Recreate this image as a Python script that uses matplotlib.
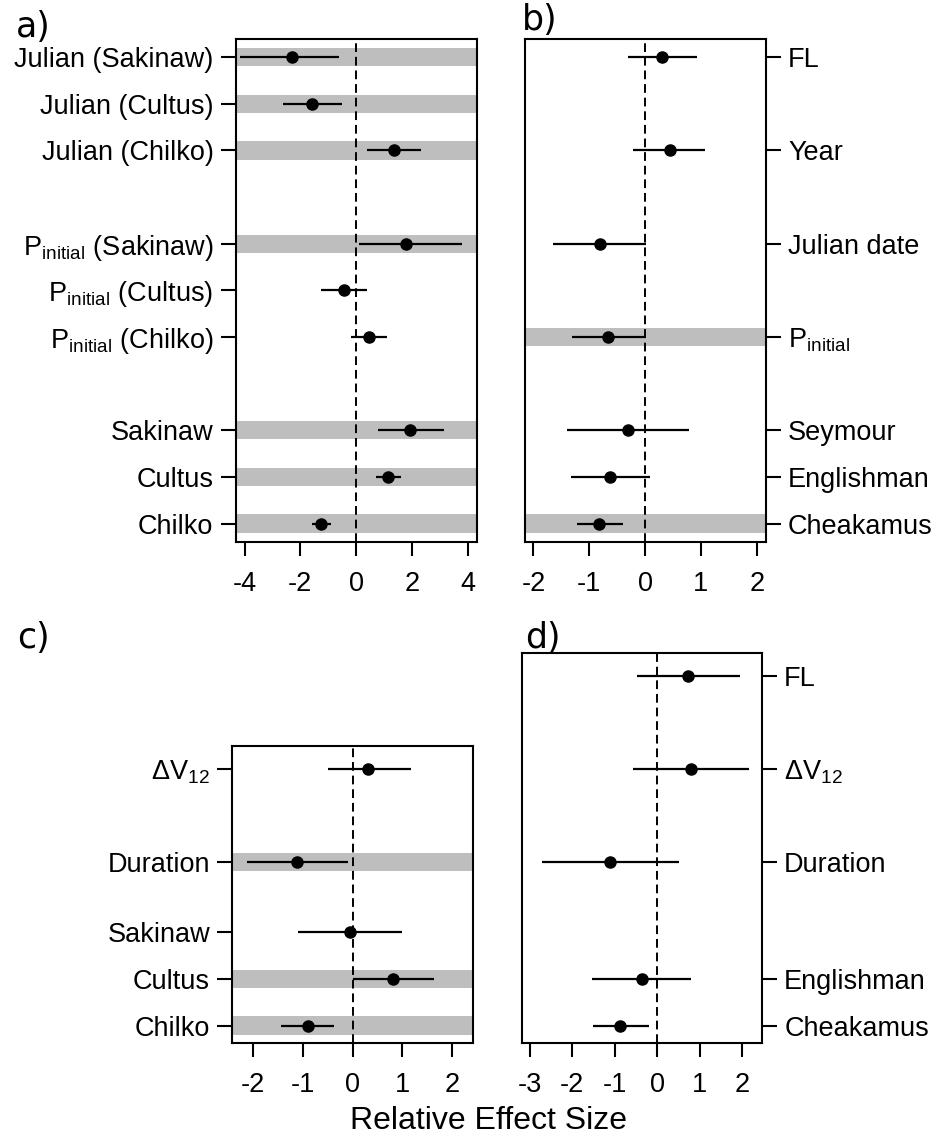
import matplotlib
matplotlib.use("Agg")
import matplotlib.pyplot as plt

plt.rcParams['font.family'] = ['Liberation Sans', 'DejaVu Sans']
plt.rcParams['mathtext.fontset'] = 'custom'
plt.rcParams['mathtext.rm'] = 'Liberation Sans'
plt.rcParams['mathtext.it'] = 'Liberation Sans:italic'
plt.rcParams['mathtext.bf'] = 'Liberation Sans:bold'
plt.rcParams['mathtext.default'] = 'regular'

# ---------------- data ----------------
# panel a
a_labels = ['Julian (Sakinaw)', 'Julian (Cultus)', 'Julian (Chilko)',
            r'P$_{initial}$ (Sakinaw)', r'P$_{initial}$ (Cultus)', r'P$_{initial}$ (Chilko)',
            'Sakinaw', 'Cultus', 'Chilko']
a_slots = [0, 1, 2, 4, 5, 6, 8, 9, 10]
a_est = [-2.30, -1.57, 1.36, 1.79, -0.44, 0.45, 1.92, 1.14, -1.25]
a_lo = [-4.18, -2.63, 0.39, 0.12, -1.25, -0.18, 0.80, 0.72, -1.59]
a_hi = [-0.63, -0.49, 2.33, 3.80, 0.38, 1.11, 3.15, 1.60, -0.91]
a_shade = [True, True, True, True, False, False, True, True, True]
a_xticks = [-4, -2, 0, 2, 4]

# panel b
b_labels = ['FL', 'Year', 'Julian date', r'P$_{initial}$', 'Seymour', 'Englishman', 'Cheakamus']
b_slots = [0, 2, 4, 6, 8, 9, 10]
b_est = [0.30, 0.44, -0.80, -0.66, -0.31, -0.63, -0.82]
b_lo = [-0.30, -0.21, -1.65, -1.31, -1.39, -1.32, -1.22]
b_hi = [0.93, 1.07, 0.01, 0.01, 0.78, 0.08, -0.40]
b_shade = [False, False, False, True, False, False, True]
b_xticks = [-2, -1, 0, 1, 2]

# panel c
c_labels = [r'ΔV$_{12}$', 'Duration', 'Sakinaw', 'Cultus', 'Chilko']
c_slots = [0, 2, 3.5, 4.5, 5.5]
c_est = [0.31, -1.11, -0.06, 0.82, -0.89]
c_lo = [-0.50, -2.12, -1.09, 0.00, -1.43]
c_hi = [1.17, -0.09, 0.99, 1.63, -0.38]
c_shade = [False, True, False, True, True]
c_xticks = [-2, -1, 0, 1, 2]

# panel d
d_labels = ['FL', r'ΔV$_{12}$', 'Duration', 'Englishman', 'Cheakamus']
d_slots = [0, 2, 4, 6.5, 7.5]
d_est = [0.73, 0.80, -1.11, -0.37, -0.87]
d_lo = [-0.47, -0.56, -2.70, -1.53, -1.52]
d_hi = [1.95, 2.16, 0.50, 0.80, -0.20]
d_shade = [False, False, False, False, False]
d_xticks = [-3, -2, -1, 0, 1, 2]

# ---------------- figure ----------------
W, H = 940, 1137
fig = plt.figure(figsize=(W / 100, H / 100), dpi=100)

FS = 19.5


def px_axes(left, right, top, bottom):
    return fig.add_axes([left / W, 1 - bottom / H, (right - left) / W, (bottom - top) / H])


def panel(ax, labels, slots, est, lo, hi, shade, xticks, xlim, ylim, side):
    ax.set_xlim(*xlim)
    ax.set_ylim(*ylim)
    for s, sh in zip(slots, shade):
        if sh:
            ax.axhspan(s - 0.197, s + 0.197, color='#BEBEBE', lw=0, zorder=0)
    ax.axvline(0, color='black', lw=1.4, ls=(0, (4.5, 2.5)), zorder=1)
    ax.hlines(slots, lo, hi, color='black', lw=1.6, zorder=2)
    ax.plot(est, slots, 'o', color='black', ms=8, zorder=3)
    ax.set_yticks(slots)
    ax.set_yticklabels(labels, fontsize=FS)
    ax.set_xticks(xticks)
    ax.set_xticklabels([str(t) for t in xticks], fontsize=FS)
    ax.tick_params(axis='x', length=10, width=1.5, pad=11)
    ax.tick_params(axis='y', length=11, width=1.5, pad=5)
    if side == 'right':
        ax.yaxis.tick_right()
    for sp in ax.spines.values():
        sp.set_linewidth(1.5)


ax_a = px_axes(235.7, 476.7, 39, 541.7)
panel(ax_a, a_labels, a_slots, a_est, a_lo, a_hi, a_shade, a_xticks,
      (-4.32, 4.33), (10.39, -0.39), 'left')

ax_b = px_axes(525, 765.7, 39, 541.7)
panel(ax_b, b_labels, b_slots, b_est, b_lo, b_hi, b_shade, b_xticks,
      (-2.15, 2.16), (10.39, -0.39), 'right')

ax_c = px_axes(232.3, 473.3, 746, 1043.3)
panel(ax_c, c_labels, c_slots, c_est, c_lo, c_hi, c_shade, c_xticks,
      (-2.42, 2.43), (5.88, -0.49), 'left')

ax_d = px_axes(522, 762, 652.7, 1043.3)
panel(ax_d, d_labels, d_slots, d_est, d_lo, d_hi, d_shade, d_xticks,
      (-3.18, 2.46), (7.88, -0.5), 'right')

# panel letters
for txt, x, y in [('a)', 16, 37), ('b)', 522, 30), ('c)', 17, 648), ('d)', 525, 648)]:
    fig.text(x / W, 1 - y / H, txt, fontsize=25, family='DejaVu Sans',
             ha='left', va='baseline')

fig.text(489 / W, 1 - 1129 / H, 'Relative Effect Size', fontsize=23,
         ha='center', va='baseline')

fig.savefig('out.png', dpi=100)
